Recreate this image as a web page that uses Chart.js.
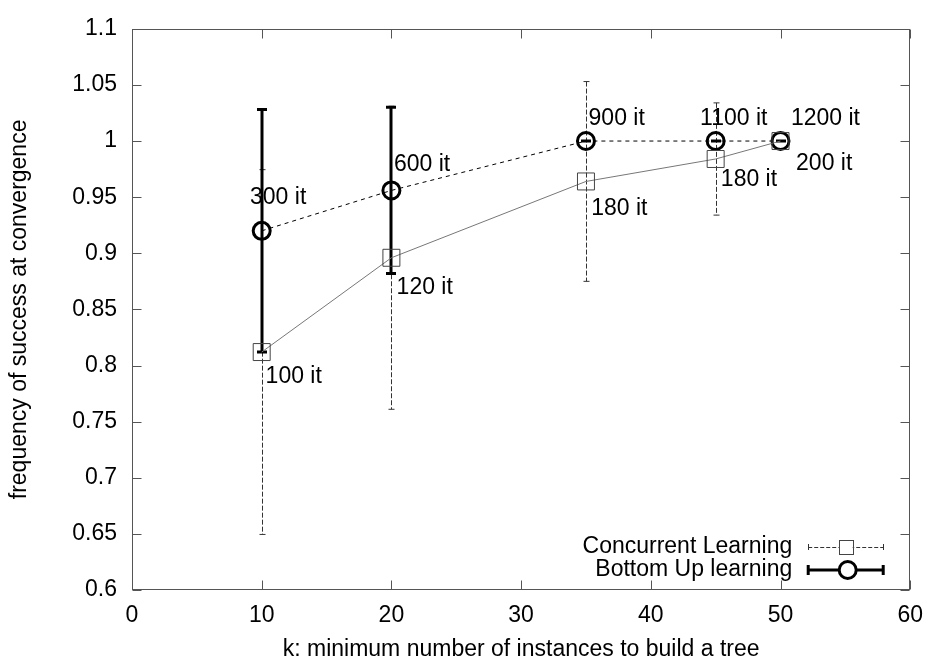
<!DOCTYPE html>
<html>
<head>
<meta charset="utf-8">
<script src="https://cdn.jsdelivr.net/npm/chart.js@4.4.0/dist/chart.umd.min.js"></script>
<style>
  html, body { margin: 0; padding: 0; background: #fff; }
  #wrap { width: 935px; height: 662px; }
</style>
</head>
<body>
<div id="wrap"><canvas id="chart"></canvas></div>
<script>
// ===== DATA =====
const kValues = [10, 20, 35, 45, 50];
const concurrentMean = [0.812, 0.896, 0.964, 0.984, 1.0];
const concurrentErr = [0.1625, 0.135, 0.089, 0.05, 0];
const bottomUpMean = [0.92, 0.956, 1.0, 1.0, 1.0];
const bottomUpErr = [0.108, 0.074, 0, 0, 0];

// iteration annotations (anchor in data coords, left-aligned)
const concurrentIters = ['100 it', '120 it', '180 it', '180 it', '200 it'];
const concurrentIterX = [10.3, 20.4, 35.4, 45.4, 51.2];
const concurrentIterY = [0.79, 0.869, 0.94, 0.966, 0.98];
const bottomUpIters = ['300 it', '600 it', '900 it', '1100 it', '1200 it'];
const bottomUpIterX = [9.1, 20.2, 35.2, 43.8, 50.8];
const bottomUpIterY = [0.95, 0.979, 1.02, 1.02, 1.02];

const xTicks = [0, 10, 20, 30, 40, 50, 60];
const yTicks = [0.6, 0.65, 0.7, 0.75, 0.8, 0.85, 0.9, 0.95, 1, 1.05, 1.1];
const yTickLabels = ['0.6', '0.65', '0.7', '0.75', '0.8', '0.85', '0.9', '0.95', '1', '1.05', '1.1'];

const FAMILY = '"Liberation Sans", Arial, sans-serif';
const FONT = '23px ' + FAMILY;
const FRAME = '#555';

// ===== HELPERS =====
function drawErrorBars(ctx, xScale, yScale, means, errs, style) {
  ctx.save();
  ctx.strokeStyle = style.color;
  ctx.lineWidth = style.width;
  kValues.forEach((k, i) => {
    const px = Math.round(xScale.getPixelForValue(k)) + style.shift;
    const top = yScale.getPixelForValue(means[i] + errs[i]);
    const bot = yScale.getPixelForValue(means[i] - errs[i]);
    ctx.setLineDash(style.dash);
    ctx.beginPath();
    ctx.moveTo(px, top);
    ctx.lineTo(px, bot);
    ctx.stroke();
    ctx.setLineDash([]);
    ctx.beginPath();
    ctx.moveTo(px - style.cap, top);
    ctx.lineTo(px + style.cap, top);
    ctx.moveTo(px - style.cap, bot);
    ctx.lineTo(px + style.cap, bot);
    ctx.stroke();
  });
  ctx.restore();
}

function drawIterLabels(ctx, xScale, yScale, texts, xs, ys) {
  texts.forEach((t, i) => {
    ctx.fillText(t, xScale.getPixelForValue(xs[i]), yScale.getPixelForValue(ys[i]));
  });
}

// ===== GNUPLOT STYLE FRAME / ERROR BARS / LEGEND =====
const gnuplotPlugin = {
  id: 'gnuplot',
  beforeDatasetsDraw(chart) {
    const { ctx, scales: { x, y } } = chart;
    drawErrorBars(ctx, x, y, concurrentMean, concurrentErr,
      { color: '#333', width: 1, dash: [5, 2], cap: 3, shift: 0.5 });
    drawErrorBars(ctx, x, y, bottomUpMean, bottomUpErr,
      { color: '#000', width: 3, dash: [], cap: 5, shift: 0 });
  },
  afterDraw(chart) {
    const { ctx, chartArea: a, scales: { x, y } } = chart;
    ctx.save();

    // border + inward ticks on all four sides
    ctx.strokeStyle = FRAME;
    ctx.lineWidth = 1;
    const L = Math.round(a.left) + 0.5, R = Math.round(a.right) - 0.5;
    const T = Math.round(a.top) + 0.5, B = Math.round(a.bottom) - 0.5;
    ctx.strokeRect(L, T, R - L, B - T);
    ctx.beginPath();
    xTicks.forEach(v => {
      const px = Math.round(x.getPixelForValue(v)) + 0.5;
      ctx.moveTo(px, B); ctx.lineTo(px, B - 9);
      ctx.moveTo(px, T); ctx.lineTo(px, T + 9);
    });
    yTicks.forEach(v => {
      const py = Math.round(y.getPixelForValue(v)) + 0.5;
      ctx.moveTo(L, py); ctx.lineTo(L + 9, py);
      ctx.moveTo(R, py); ctx.lineTo(R - 9, py);
    });
    ctx.stroke();

    // iteration labels
    ctx.fillStyle = '#000';
    ctx.font = FONT;
    ctx.textAlign = 'left';
    ctx.textBaseline = 'middle';
    drawIterLabels(ctx, x, y, bottomUpIters, bottomUpIterX, bottomUpIterY);
    drawIterLabels(ctx, x, y, concurrentIters, concurrentIterX, concurrentIterY);

    // axis titles
    ctx.textAlign = 'center';
    ctx.fillText('k: minimum number of instances to build a tree', (a.left + a.right) / 2, a.bottom + 60);
    ctx.save();
    ctx.translate(20, (a.top + a.bottom) / 2);
    ctx.rotate(-Math.PI / 2);
    ctx.fillText('frequency of success at convergence', 0, 0);
    ctx.restore();

    // legend (bottom right, inside)
    const textRight = a.right - 118;
    const s0 = a.right - 102, s1 = a.right - 27, sm = (s0 + s1) / 2;
    const row1 = a.bottom - 43, row2 = a.bottom - 20;
    ctx.textAlign = 'right';
    ctx.fillText('Concurrent Learning', textRight, row1);
    ctx.fillText('Bottom Up learning', textRight, row2);

    // concurrent sample
    ctx.strokeStyle = '#333';
    ctx.lineWidth = 1;
    ctx.setLineDash([4, 2]);
    ctx.beginPath();
    ctx.moveTo(s0, Math.round(row1) + 0.5); ctx.lineTo(s1, Math.round(row1) + 0.5);
    ctx.stroke();
    ctx.setLineDash([]);
    ctx.beginPath();
    ctx.moveTo(Math.round(s0) + 0.5, row1 - 3); ctx.lineTo(Math.round(s0) + 0.5, row1 + 3);
    ctx.moveTo(Math.round(s1) + 0.5, row1 - 3); ctx.lineTo(Math.round(s1) + 0.5, row1 + 3);
    ctx.stroke();
    ctx.fillStyle = '#fff';
    ctx.fillRect(sm - 7, row1 - 7, 14, 14);
    ctx.strokeStyle = '#444';
    ctx.strokeRect(Math.round(sm - 7) + 0.5, Math.round(row1 - 7) + 0.5, 14, 14);

    // bottom up sample
    ctx.strokeStyle = '#000';
    ctx.lineWidth = 3;
    ctx.beginPath();
    ctx.moveTo(s0, row2); ctx.lineTo(s1, row2);
    ctx.moveTo(s0, row2 - 5); ctx.lineTo(s0, row2 + 5);
    ctx.moveTo(s1, row2 - 5); ctx.lineTo(s1, row2 + 5);
    ctx.stroke();
    ctx.beginPath();
    ctx.arc(sm + 2, row2, 8.5, 0, Math.PI * 2);
    ctx.fillStyle = '#fff';
    ctx.fill();
    ctx.stroke();

    ctx.restore();
  }
};

// ===== CHART =====
const ctx = document.getElementById('chart').getContext('2d');
new Chart(ctx, {
  type: 'scatter',
  data: {
    datasets: [
      {
        label: 'Concurrent Learning',
        data: kValues.map((k, i) => ({ x: k, y: concurrentMean[i] })),
        showLine: true,
        borderColor: '#777',
        borderWidth: 1,
        pointStyle: 'rect',
        pointRadius: 12,
        pointBorderWidth: 1,
        pointBorderColor: '#444',
        pointBackgroundColor: 'rgba(0,0,0,0)'
      },
      {
        label: 'Bottom Up learning',
        data: kValues.map((k, i) => ({ x: k, y: bottomUpMean[i] })),
        showLine: true,
        borderColor: '#000',
        borderWidth: 1,
        borderDash: [4, 4],
        pointStyle: 'circle',
        pointRadius: 8.5,
        pointBorderWidth: 3,
        pointBorderColor: '#000',
        pointBackgroundColor: 'rgba(0,0,0,0)'
      }
    ]
  },
  options: {
    responsive: true,
    maintainAspectRatio: false,
    animation: false,
    layout: { padding: { top: 19, right: 22, left: 0, bottom: 0 } },
    plugins: { legend: { display: false }, tooltip: { enabled: false } },
    scales: {
      x: {
        type: 'linear',
        min: 0,
        max: 60,
        afterBuildTicks: s => { s.ticks = xTicks.map(v => ({ value: v })); },
        afterFit: s => { s.height = 72; },
        grid: { display: false, drawTicks: false },
        border: { display: false },
        ticks: { color: '#000', font: { family: FAMILY, size: 23 }, padding: 12, maxRotation: 0 }
      },
      y: {
        type: 'linear',
        min: 0.6,
        max: 1.1,
        afterBuildTicks: s => { s.ticks = yTicks.map(v => ({ value: v })); },
        afterFit: s => { s.width = 132; },
        grid: { display: false, drawTicks: false },
        border: { display: false },
        ticks: {
          color: '#000',
          font: { family: FAMILY, size: 23 },
          padding: 15,
          callback: (v, i) => yTickLabels[i]
        }
      }
    }
  },
  plugins: [gnuplotPlugin]
});
</script>
</body>
</html>
